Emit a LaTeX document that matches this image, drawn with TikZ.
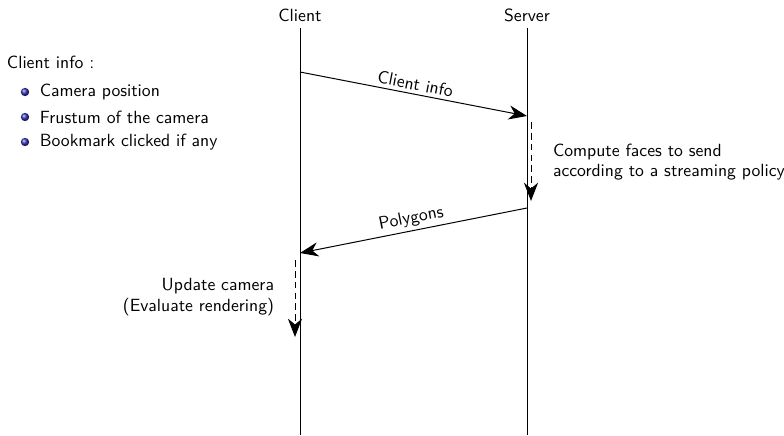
\documentclass[tikz,border=0pt]{standalone}
\usepackage{tikz}
\usetikzlibrary{arrows.meta,positioning}
\definecolor{BallBlue}{RGB}{51,51,178}
\renewcommand{\familydefault}{\sfdefault}

\begin{document}
\begin{tikzpicture}[x=0.6pt,y=-0.6pt,font=\sffamily\fontsize{10.6}{12.5}\selectfont,
  every node/.style={inner sep=1pt},
  header/.style={inner sep=3.5pt},
  lifeline/.style={line width=0.6pt},
  msg/.style={-{Stealth[length=11pt,width=8.5pt,inset=3.5pt]},line width=0.6pt},
  proc/.style={msg,dash pattern=on 4pt off 2.5pt},
  ball/.style={circle,inner sep=0pt,minimum size=5pt,shade,ball color=BallBlue}]
  \useasboundingbox (0,0) rectangle (784,435);
  % the two lifelines
  \node[header] (client) at (300,15) {Client};
  \node[header] (server) at (527,15) {Server};
  \coordinate (clientend) at (300,435);
  \coordinate (serverend) at (527,435);
  \draw[lifeline] (client) -- (clientend);
  \draw[lifeline] (server) -- (serverend);
  % request
  \coordinate (req0) at (300,72);
  \coordinate (req1) at (527,116);
  \draw[msg] (req0) -- node[sloped,above=1pt] {Client info} (req1);
  % work on the server
  \coordinate (srv0) at (531,122);
  \coordinate (srv1) at (531,201);
  \draw[proc] (srv0) -- (srv1);
  \node[anchor=west,align=left] (srvtext) at (551,162)
    {Compute faces to send\\according to a streaming policy};
  % answer
  \coordinate (ans0) at (527,208);
  \coordinate (ans1) at (300,253);
  \draw[msg] (ans0) -- node[sloped,above=1pt] {Polygons} (ans1);
  % work on the client
  \coordinate (cli0) at (295,260);
  \coordinate (cli1) at (295,337);
  \draw[proc] (cli0) -- (cli1);
  \node[anchor=east,align=right] (clitext) at (276,297)
    {Update camera\\(Evaluate rendering)};
  % what the client sends
  \node[anchor=base west] (infotitle) at (5,68) {Client info :};
  \node[ball] (b1) at (25,92) {};
  \node[ball] (b2) at (25,117) {};
  \node[ball] (b3) at (25,142) {};
  \node[right=5pt of b1] (i1) {Camera position};
  \node[right=5pt of b2] (i2) {Frustum of the camera};
  \node[right=5pt of b3] (i3) {Bookmark clicked if any};
\end{tikzpicture}
\end{document}
